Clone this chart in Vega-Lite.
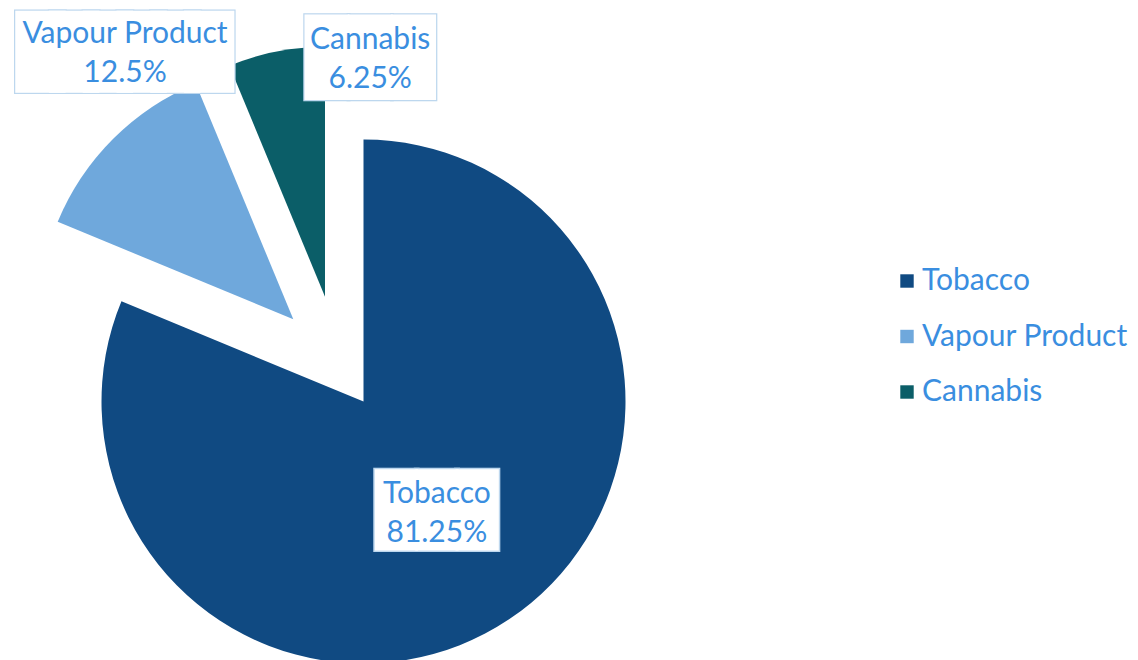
{
  "$schema": "https://vega.github.io/schema/vega-lite/v6.json",
  "width": 664,
  "height": 660,
  "autosize": {"type": "none"},
  "padding": {"left": 0, "top": 0, "right": 474, "bottom": 0},
  "background": "white",
  "config": {"view": {"stroke": null}, "font": "Lato"},
  "data": {"values": [
    {"cat": "Tobacco", "value": 81.25, "label": "Tobacco\n81.25%"},
    {"cat": "Vapour Product", "value": 12.5, "label": "Vapour Product\n12.5%"},
    {"cat": "Cannabis", "value": 6.25, "label": "Cannabis\n6.25%"}
  ]},
  "encoding": {
    "theta": {"field": "value", "type": "quantitative", "stack": true, "scale": {"domain": [0, 100]}},
    "order": {"field": "value", "type": "quantitative", "sort": "descending"}
  },
  "layer": [
    {
      "mark": {"type": "arc", "outerRadius": 262, "xOffset": 31.5, "yOffset": 71.5},
      "encoding": {
        "color": {"field": "cat", "type": "nominal", "scale": {"domain": ["Tobacco", "Vapour Product", "Cannabis"], "range": ["#104A82", "#6FA8DC", "#0B5E68"]},
          "legend": {"title": null, "orient": "none", "legendX": 892, "legendY": 266, "symbolType": "square", "symbolSize": 180, "symbolStrokeWidth": 0, "symbolOpacity": 1, "labelFontSize": 30, "labelFont": "Lato", "labelColor": "#3A8EE0", "labelLimit": 400, "rowPadding": 25.5, "labelOffset": 0}},
        "opacity": {"condition": {"test": "datum.cat === 'Tobacco'", "value": 1}, "value": 0}
      }
    },
    {
      "mark": {"type": "arc", "outerRadius": 255, "xOffset": -38.7, "yOffset": -10.7},
      "encoding": {
        "color": {"field": "cat", "type": "nominal", "scale": {"domain": ["Tobacco", "Vapour Product", "Cannabis"], "range": ["#104A82", "#6FA8DC", "#0B5E68"]},
          "legend": {"title": null, "orient": "none", "legendX": 892, "legendY": 266, "symbolType": "square", "symbolSize": 180, "symbolStrokeWidth": 0, "symbolOpacity": 1, "labelFontSize": 30, "labelFont": "Lato", "labelColor": "#3A8EE0", "labelLimit": 400, "rowPadding": 25.5, "labelOffset": 0}},
        "opacity": {"condition": {"test": "datum.cat === 'Vapour Product'", "value": 1}, "value": 0}
      }
    },
    {
      "mark": {"type": "arc", "outerRadius": 250, "xOffset": -7, "yOffset": -33.3},
      "encoding": {
        "color": {"field": "cat", "type": "nominal", "scale": {"domain": ["Tobacco", "Vapour Product", "Cannabis"], "range": ["#104A82", "#6FA8DC", "#0B5E68"]},
          "legend": {"title": null, "orient": "none", "legendX": 892, "legendY": 266, "symbolType": "square", "symbolSize": 180, "symbolStrokeWidth": 0, "symbolOpacity": 1, "labelFontSize": 30, "labelFont": "Lato", "labelColor": "#3A8EE0", "labelLimit": 400, "rowPadding": 25.5, "labelOffset": 0}},
        "opacity": {"condition": {"test": "datum.cat === 'Cannabis'", "value": 1}, "value": 0}
      }
    },
    {
      "mark": {"type": "text", "radius": 132, "xOffset": 31.5, "yOffset": 71.5, "dy": 1.3, "font": "DejaVu Sans Mono", "fontSize": 67, "color": "#BDD7EE", "stroke": "#BDD7EE", "strokeWidth": 4.6, "align": "center", "baseline": "middle"},
      "encoding": {"text": {"condition": {"test": "datum.cat === 'Tobacco'", "value": "███"}, "value": ""}}
    },
    {
      "mark": {"type": "text", "radius": 132, "xOffset": 31.5, "yOffset": 71.5, "dy": 1.3, "font": "DejaVu Sans Mono", "fontSize": 67, "color": "white", "stroke": "white", "strokeWidth": 1.6, "align": "center", "baseline": "middle"},
      "encoding": {"text": {"condition": {"test": "datum.cat === 'Tobacco'", "value": "███"}, "value": ""}}
    },
    {
      "mark": {"type": "text", "radius": 132, "xOffset": 31.5, "yOffset": 71.5, "dy": -17.6, "font": "Lato", "fontSize": 30, "color": "#3A8EE0", "lineBreak": "\n", "lineHeight": 39.5, "align": "center", "baseline": "middle"},
      "encoding": {"text": {"condition": {"test": "datum.cat === 'Tobacco'", "field": "label", "type": "nominal"}, "value": ""}}
    },
    {
      "mark": {"type": "text", "radius": 238, "xOffset": -38.7, "yOffset": -10.7, "dy": -97.3, "font": "DejaVu Sans Mono", "fontSize": 56, "color": "#BDD7EE", "stroke": "#BDD7EE", "strokeWidth": 18, "align": "center", "baseline": "middle"},
      "encoding": {"text": {"condition": {"test": "datum.cat === 'Vapour Product'", "value": "██████"}, "value": ""}}
    },
    {
      "mark": {"type": "text", "radius": 238, "xOffset": -38.7, "yOffset": -10.7, "dy": -97.3, "font": "DejaVu Sans Mono", "fontSize": 56, "color": "white", "stroke": "white", "strokeWidth": 15.5, "align": "center", "baseline": "middle"},
      "encoding": {"text": {"condition": {"test": "datum.cat === 'Vapour Product'", "value": "██████"}, "value": ""}}
    },
    {
      "mark": {"type": "text", "radius": 238, "xOffset": -38.7, "yOffset": -10.7, "dy": -117.3, "font": "Lato", "fontSize": 30, "color": "#3A8EE0", "lineBreak": "\n", "lineHeight": 39.5, "align": "center", "baseline": "middle"},
      "encoding": {"text": {"condition": {"test": "datum.cat === 'Vapour Product'", "field": "label", "type": "nominal"}, "value": ""}}
    },
    {
      "mark": {"type": "text", "radius": 245, "xOffset": -7, "yOffset": -33.3, "dx": 93, "dy": 3.8, "font": "DejaVu Sans Mono", "fontSize": 72, "color": "#BDD7EE", "stroke": "#BDD7EE", "strokeWidth": 2.5, "align": "center", "baseline": "middle"},
      "encoding": {"text": {"condition": {"test": "datum.cat === 'Cannabis'", "value": "███"}, "value": ""}}
    },
    {
      "mark": {"type": "text", "radius": 245, "xOffset": -7, "yOffset": -33.3, "dx": 93, "dy": 3.8, "font": "DejaVu Sans Mono", "fontSize": 72, "color": "white", "strokeWidth": 0, "align": "center", "baseline": "middle"},
      "encoding": {"text": {"condition": {"test": "datum.cat === 'Cannabis'", "value": "███"}, "value": ""}}
    },
    {
      "mark": {"type": "text", "radius": 245, "xOffset": -7, "yOffset": -33.3, "dx": 93, "dy": -16.7, "font": "Lato", "fontSize": 30, "color": "#3A8EE0", "lineBreak": "\n", "lineHeight": 39.5, "align": "center", "baseline": "middle"},
      "encoding": {"text": {"condition": {"test": "datum.cat === 'Cannabis'", "field": "label", "type": "nominal"}, "value": ""}}
    }
  ]
}
